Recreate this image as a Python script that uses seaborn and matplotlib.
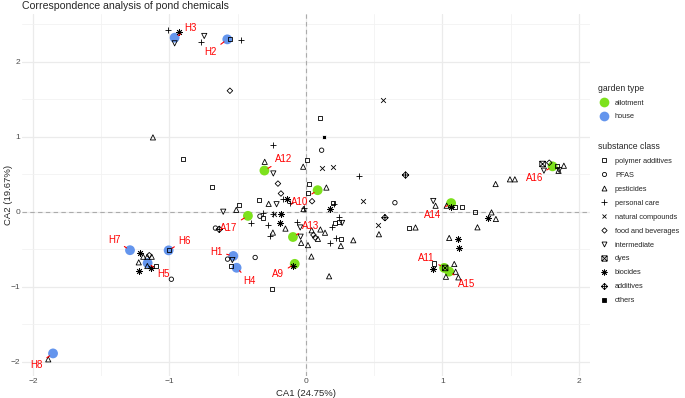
import numpy as np
import pandas as pd
import seaborn as sns
import matplotlib.pyplot as plt
from matplotlib.path import Path
from matplotlib.lines import Line2D
from matplotlib.ticker import MultipleLocator

# ---- garden samples (row coordinates) ----
garden_id = ["H1", "H2", "H3", "H4", "H5", "H6", "H7", "H8",
             "A9", "A10", "A11", "A12", "A13", "A14", "A15", "A16", "A17"]
garden_type = ["house"] * 8 + ["allotment"] * 9
garden_x = [-0.532, -0.576, -0.962, -0.508, -1.160, -1.006, -1.289, -1.853,
            -0.082, 0.086, 1.013, -0.304, -0.095, 1.064, 1.050, 1.807, -0.425]
garden_y = [-0.590, 2.298, 2.320, -0.747, -0.685, -0.515, -0.513, -1.889,
            -0.695, 0.287, -0.749, 0.549, -0.337, 0.115, -0.798, 0.605, -0.055]
# where the repelled labels ended up
label_x = [-0.655, -0.697, -0.846, -0.413, -1.043, -0.890, -1.404, -1.972,
           -0.202, -0.048, 0.885, -0.164, 0.037, 0.931, 1.176, 1.673, -0.565]
label_y = [-0.533, 2.131, 2.448, -0.925, -0.829, -0.384, -0.375, -2.042,
           -0.834, 0.128, -0.611, 0.704, -0.187, -0.042, -0.958, 0.450, -0.211]

# ---- substances (column coordinates), one pair of lists per class ----
polymer_x = [-0.557, 0.103, 0.005, -0.903, -0.691, 0.025, 0.017, -0.345, -0.490, -0.313,
             0.200, 0.212, 0.244, 0.256, 0.754, 1.095, 1.146, 1.236, 0.938, 1.841,
             -1.006, -1.097, -0.549, -0.250]
polymer_y = [2.298, 1.253, 0.689, 0.707, 0.325, 0.369, 0.245, 0.154, 0.087, -0.089,
             0.111, -0.155, -0.142, -0.367, -0.222, 0.059, 0.059, -0.005, -0.690, 0.609,
             -0.513, -0.720, -0.720, -1.035]
pfas_x = [0.115, 0.652, -0.337, -0.663, -0.574, -0.372, -0.986]
pfas_y = [0.820, 0.120, -0.060, -0.218, -0.632, -0.610, -0.900]
pest_x = [-1.121, -0.302, -0.020, 0.150, -0.273, -0.510, -0.018, -0.150, -0.242, -0.035,
          0.015, 0.088, 0.140, 0.106, 0.042, 0.256, 0.347, 0.040, 0.170, 0.535,
          0.803, 0.950, 1.031, 1.360, 1.392, 1.257, 1.390, 1.495, 1.531, 1.890,
          1.851, 1.050, 1.087, 1.097, 1.117, 1.026, -1.192, -1.162, -1.130, -1.225,
          -1.162, -1.888]
pest_y = [0.991, 0.665, 0.600, 0.322, 0.105, 0.025, 0.035, -0.225, -0.278, -0.415,
          -0.445, -0.362, -0.280, -0.237, -0.247, -0.455, -0.380, -0.597, -0.860, -0.300,
          -0.210, 0.080, 0.080, -0.009, -0.097, -0.208, 0.369, 0.432, 0.432, 0.613,
          0.545, -0.350, -0.697, -0.800, -0.875, -0.867, -0.600, -0.600, -0.600, -0.675,
          -0.724, -1.968]
care_x = [-1.009, -0.772, -0.478, -0.239, 0.388, -0.166, -0.117, -0.016, 0.205, -0.405,
          -0.317, -0.240, -0.276, -0.264, -0.068, 0.240, 0.190, 0.180, 0.220]
care_y = [2.423, 2.267, 2.289, 0.889, 0.480, 0.170, 0.120, 0.045, 0.102, -0.153,
          -0.018, -0.030, -0.177, -0.322, -0.142, -0.070, -0.200, -0.415, -0.345]
natural_x = [0.562, 0.120, 0.200, 0.415, 0.530, -0.232]
natural_y = [1.489, 0.578, 0.600, 0.145, -0.180, -0.030]
food_x = [-0.557, -0.205, -0.183, 0.045, 0.055, 0.068, -1.148, 1.783]
food_y = [1.613, 0.375, 0.243, 0.140, -0.310, -0.345, -0.580, 0.653]
inter_x = [-0.962, -0.745, -0.239, -0.215, -0.606, -0.042, -0.039, 0.265, -0.539, 0.933,
           1.744, 1.856]
inter_y = [2.245, 2.343, 0.510, 0.100, 0.000, -0.210, -0.333, -0.150, -0.644, 0.143,
           0.547, 0.556]
dyes_x = [1.734, 1.020]
dyes_y = [0.636, -0.750]
bio_x = [-0.930, -0.137, 0.176, -0.183, -0.190, -0.098, 1.062, 1.336, 1.116, 1.124,
         0.933, -1.216, -1.138, -1.225]
bio_y = [2.392, 0.165, 0.034, -0.030, -0.155, -0.720, 0.059, -0.080, -0.364, -0.488,
         -0.764, -0.555, -0.755, -0.787]
addit_x = [0.730, 0.579, -0.635]
addit_y = [0.489, -0.080, -0.235]
other_x = [0.129]
other_y = [0.992]

classes = ["polymer additives", "PFAS", "pesticides", "personal care", "natural compounds",
           "food and beverages", "intermediate", "dyes", "biocides", "additives", "others"]
class_x = [polymer_x, pfas_x, pest_x, care_x, natural_x, food_x, inter_x, dyes_x, bio_x,
           addit_x, other_x]
class_y = [polymer_y, pfas_y, pest_y, care_y, natural_y, food_y, inter_y, dyes_y, bio_y,
           addit_y, other_y]

garden = pd.DataFrame({"id": garden_id, "type": garden_type, "x": garden_x, "y": garden_y})
subs = pd.concat([pd.DataFrame({"cls": c, "x": xs, "y": ys})
                  for c, xs, ys in zip(classes, class_x, class_y)], ignore_index=True)

# ggplot-ish composite shapes
sq_x = Path([(-1, -1), (1, -1), (1, 1), (-1, 1), (-1, -1), (-1, -1), (1, 1), (-1, 1), (1, -1)],
            [1, 2, 2, 2, 2, 1, 2, 1, 2])
dia_plus = Path([(0, -1), (1, 0), (0, 1), (-1, 0), (0, -1), (0, -1), (0, 1), (-1, 0), (1, 0)],
                [1, 2, 2, 2, 2, 1, 2, 1, 2])
# marker, size, open?
shape = {
    "polymer additives": ("s", 9, True),
    "PFAS": ("o", 10, True),
    "pesticides": ("^", 14, True),
    "personal care": ("+", 22, False),
    "natural compounds": ("x", 12, False),
    "food and beverages": ("D", 8, True),
    "intermediate": ("v", 14, True),
    "dyes": (sq_x, 16, True),
    "biocides": ((8, 2, 0), 20, False),
    "additives": (dia_plus, 22, True),
    "others": ("s", 9, False),
}
garden_pal = {"allotment": "#7DE11C", "house": "#6495ED"}

sns.set_theme(style="whitegrid")
plt.rcParams["font.family"] = ["Liberation Sans", "DejaVu Sans"]

fig = plt.figure(figsize=(6.85, 3.98), dpi=100)
ax = fig.add_axes([0.0328, 0.0553, 0.828, 0.9103])

ax.set_xlim(-2.077, 2.079)
ax.set_ylim(-2.19, 2.64)
ax.xaxis.set_major_locator(MultipleLocator(1))
ax.yaxis.set_major_locator(MultipleLocator(1))
ax.xaxis.set_minor_locator(MultipleLocator(0.5))
ax.yaxis.set_minor_locator(MultipleLocator(0.5))
ax.set_facecolor("white")
ax.grid(which="major", color="#EBEBEB", lw=0.9)
ax.grid(which="minor", color="#F2F2F2", lw=0.6)
for s in ax.spines.values():
    s.set_visible(False)
ax.tick_params(which="both", length=0, labelsize=6, labelcolor="#4D4D4D", pad=1.5)
ax.set_axisbelow(True)

ax.axhline(0, color="#ABABAB", lw=0.8, ls=(0, (4, 3)), zorder=1)
ax.axvline(0, color="#ABABAB", lw=0.8, ls=(0, (4, 3)), zorder=1)

sns.scatterplot(data=garden, x="x", y="y", hue="type", palette=garden_pal, s=50,
                edgecolor="none", legend=False, ax=ax, zorder=2)

for c in classes:
    m, size, hollow = shape[c]
    d = subs[subs.cls == c]
    if hollow:
        sns.scatterplot(data=d, x="x", y="y", marker=m, s=size, facecolors="none",
                        edgecolor="black", linewidth=0.6, legend=False, ax=ax, zorder=3)
    else:
        sns.scatterplot(data=d, x="x", y="y", marker=m, s=size, color="black",
                        linewidth=0.6, legend=False, ax=ax, zorder=3)

for gid, gx, gy, lx, ly in zip(garden_id, garden_x, garden_y, label_x, label_y):
    ax.annotate(gid, xy=(gx, gy), xytext=(lx, ly), ha="center", va="center",
                fontsize=7, color="red", zorder=4,
                arrowprops=dict(arrowstyle="-", color="red", lw=0.8, shrinkA=0.5, shrinkB=3))

ax.set_xlabel("CA1 (24.75%)", fontsize=6.8, labelpad=3)
ax.set_ylabel("CA2 (19.67%)", fontsize=6.8)
ax.yaxis.set_label_coords(-0.0175, 0.5)
fig.text(0.0328, 0.998, "Correspondence analysis of pond chemicals", fontsize=7.6,
         ha="left", va="top")

g_handles = [Line2D([], [], marker="o", ls="none", markersize=7, markeredgewidth=0,
                    markerfacecolor=garden_pal[k]) for k in ["allotment", "house"]]
leg1 = fig.legend(g_handles, ["allotment", "house"], title="garden type",
                  loc="upper left", bbox_to_anchor=(0.873, 0.79), frameon=False,
                  fontsize=5.3, title_fontsize=6.2, handlelength=1.5, handletextpad=0.8,
                  labelspacing=0.92, borderpad=0, borderaxespad=0)
leg1._legend_box.align = "left"

s_handles = []
for c in classes:
    m, size, hollow = shape[c]
    ms = np.sqrt(size) * 0.95
    if hollow:
        h = Line2D([], [], marker=m, ls="none", markersize=ms, markerfacecolor="none",
                   markeredgecolor="black", markeredgewidth=0.6)
    else:
        h = Line2D([], [], marker=m, ls="none", markersize=ms, color="black",
                   markeredgewidth=0.6)
    s_handles.append(h)
leg2 = fig.legend(s_handles, classes, title="substance class",
                  loc="upper left", bbox_to_anchor=(0.873, 0.643), frameon=False,
                  fontsize=5.3, title_fontsize=6.2, handlelength=1.5, handletextpad=0.8,
                  labelspacing=0.92, borderpad=0, borderaxespad=0)
leg2._legend_box.align = "left"

fig.savefig("out.png", dpi=100)
